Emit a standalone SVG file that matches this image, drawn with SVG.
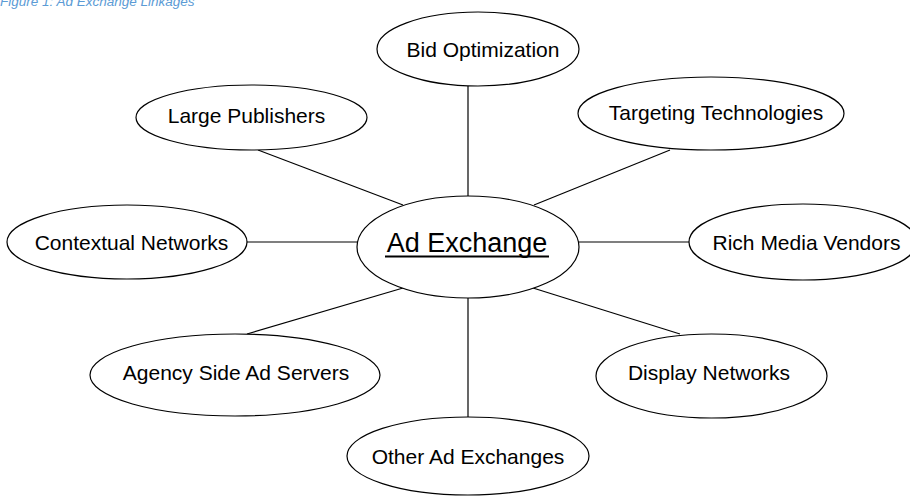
<svg xmlns="http://www.w3.org/2000/svg" width="910" height="497" viewBox="0 0 910 497">
  <style>
    .node ellipse { fill: #ffffff; stroke: #000000; stroke-width: 1.2; }
    .node text { font-family: "Liberation Sans", Arial, sans-serif; font-size: 21px; fill: #000000; text-anchor: middle; }
    .links line { stroke: #000000; stroke-width: 1.2; }
    .title { font-family: "Liberation Sans", Arial, sans-serif; font-style: italic; font-size: 13.5px; fill: #5b9bd5; }
  </style>
  <rect width="910" height="497" fill="#ffffff"/>
  <text class="title" x="0" y="6">Figure 1: Ad Exchange Linkages</text>

  <!-- spokes from the hub to each partner -->
  <g id="links" class="links">
    <line x1="468" y1="86" x2="468" y2="196"/>
    <line x1="258" y1="150" x2="403" y2="205"/>
    <line x1="670" y1="150" x2="534" y2="205"/>
    <line x1="247" y1="242" x2="357" y2="242"/>
    <line x1="579" y1="242" x2="689" y2="242"/>
    <line x1="247" y1="334" x2="403" y2="288"/>
    <line x1="680" y1="334" x2="533" y2="288"/>
    <line x1="468" y1="298" x2="468" y2="417"/>
  </g>

  <g id="ad-exchange" class="node">
    <ellipse cx="468" cy="247" rx="111" ry="51"/>
    <text x="467" y="252" style="font-size:27px">Ad Exchange</text>
    <line x1="385" y1="256.5" x2="549" y2="256.5" stroke="#000000" stroke-width="2"/>
  </g>
  <g id="bid-optimization" class="node">
    <ellipse cx="478" cy="49" rx="101" ry="37"/>
    <text x="483" y="57">Bid Optimization</text>
  </g>
  <g id="large-publishers" class="node">
    <ellipse cx="251.5" cy="117.5" rx="115.5" ry="32.5"/>
    <text x="246.5" y="123">Large Publishers</text>
  </g>
  <g id="targeting-technologies" class="node">
    <ellipse cx="711" cy="113.5" rx="133" ry="36.5"/>
    <text x="716" y="120">Targeting Technologies</text>
  </g>
  <g id="contextual-networks" class="node">
    <ellipse cx="127" cy="242" rx="120" ry="37"/>
    <text x="131.5" y="250">Contextual Networks</text>
  </g>
  <g id="rich-media-vendors" class="node">
    <ellipse cx="803" cy="242" rx="114" ry="38"/>
    <text x="806.5" y="250">Rich Media Vendors</text>
  </g>
  <g id="agency-side-ad-servers" class="node">
    <ellipse cx="235" cy="375" rx="145" ry="41"/>
    <text x="236" y="380">Agency Side Ad Servers</text>
  </g>
  <g id="display-networks" class="node">
    <ellipse cx="711.5" cy="376" rx="115.5" ry="42"/>
    <text x="709" y="380">Display Networks</text>
  </g>
  <g id="other-ad-exchanges" class="node">
    <ellipse cx="468" cy="456" rx="121" ry="39"/>
    <text x="468" y="464">Other Ad Exchanges</text>
  </g>
</svg>
